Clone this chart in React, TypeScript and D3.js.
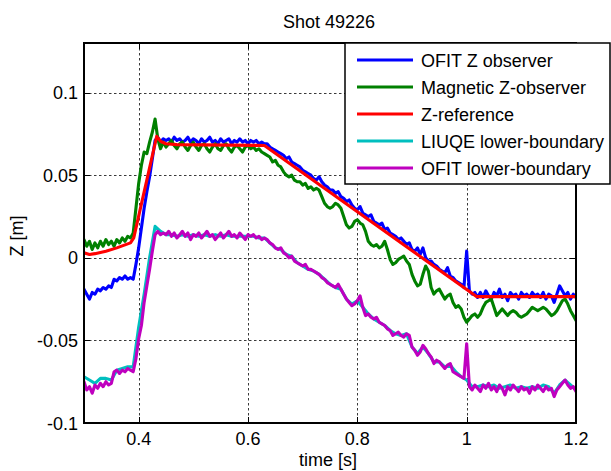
import React from "react";
import * as d3 from "d3";

// ---- Data (time in s, Z in m) ----
const TITLE = "Shot 49226";
const X_LABEL = "time [s]";
const Y_LABEL = "Z [m]";
const xTicks = [0.4, 0.6, 0.8, 1.0, 1.2];
const xTickLabels = ["0.4", "0.6", "0.8", "1", "1.2"];
const yTicks = [-0.1, -0.05, 0, 0.05, 0.1];
const yTickLabels = ["-0.1", "-0.05", "0", "0.05", "0.1"];
const seriesNames = [
  "OFIT Z observer",
  "Magnetic Z-observer",
  "Z-reference",
  "LIUQE lower-boundary",
  "OFIT lower-boundary",
];
const seriesColors = ["#0000ff", "#008000", "#ff0000", "#00bfbf", "#bf00bf"];

// sampling times (5 ms and 10 ms grids)
const timeFine = d3.range(181).map((i) => +(0.3 + i * 0.005).toFixed(3));
const timeCoarse = d3.range(91).map((i) => +(0.3 + i * 0.01).toFixed(2));

const ofitZ = [
  -0.019, -0.022, -0.025, -0.021, -0.022, -0.019, -0.020, -0.018, -0.019, -0.017, -0.018,
  -0.013, -0.014, -0.012, -0.013, -0.011, -0.013, -0.012, -0.013, -0.004, 0.006,
  0.018, 0.030, 0.040, 0.049, 0.060, 0.071, 0.073, 0.070, 0.072, 0.071,
  0.072, 0.070, 0.073, 0.071, 0.072, 0.070, 0.071, 0.073, 0.070, 0.072,
  0.071, 0.069, 0.072, 0.070, 0.071, 0.073, 0.070, 0.071, 0.069, 0.072,
  0.070, 0.071, 0.072, 0.069, 0.071, 0.070, 0.072, 0.070, 0.071, 0.069,
  0.071, 0.070, 0.071, 0.069, 0.070, 0.069, 0.069, 0.067, 0.066, 0.065,
  0.064, 0.063, 0.062, 0.060, 0.061, 0.058, 0.057, 0.056, 0.055, 0.053,
  0.052, 0.051, 0.050, 0.048, 0.047, 0.049, 0.046, 0.044, 0.043, 0.041,
  0.041, 0.039, 0.040, 0.037, 0.036, 0.034, 0.035, 0.032, 0.030, 0.029,
  0.031, 0.027, 0.026, 0.025, 0.026, 0.022, 0.021, 0.020, 0.021, 0.017,
  0.018, 0.015, 0.014, 0.013, 0.011, 0.012, 0.010, 0.008, 0.009, 0.005,
  0.004, 0.006, 0.002, 0.006, 0.000, -0.002, -0.002, -0.004, -0.005, -0.007,
  -0.008, -0.009, -0.006, -0.011, -0.012, -0.014, -0.015, -0.016, -0.018, 0.004,
  -0.020, -0.022, -0.021, -0.024, -0.021, -0.024, -0.020, -0.023, -0.025, -0.021,
  -0.023, -0.019, -0.024, -0.022, -0.026, -0.021, -0.023, -0.022, -0.025, -0.021,
  -0.023, -0.022, -0.024, -0.021, -0.023, -0.022, -0.024, -0.021, -0.025, -0.022,
  -0.023, -0.027, -0.022, -0.017, -0.020, -0.023, -0.021, -0.025, -0.022, -0.024,
];

const magneticZ = [
  0.011, 0.007, 0.010, 0.005, 0.009, 0.006, 0.010, 0.007, 0.011, 0.008, 0.010,
  0.007, 0.011, 0.009, 0.012, 0.010, 0.013, 0.012, 0.015, 0.030, 0.045,
  0.056, 0.064, 0.063, 0.070, 0.076, 0.084, 0.072, 0.066, 0.070, 0.067,
  0.069, 0.071, 0.068, 0.066, 0.069, 0.070, 0.067, 0.065, 0.068, 0.070,
  0.067, 0.065, 0.068, 0.069, 0.066, 0.064, 0.067, 0.069, 0.066, 0.065,
  0.068, 0.069, 0.066, 0.064, 0.067, 0.068, 0.066, 0.064, 0.067, 0.068,
  0.066, 0.067, 0.065, 0.066, 0.064, 0.063, 0.062, 0.061, 0.058, 0.059,
  0.056, 0.055, 0.052, 0.050, 0.049, 0.050, 0.047, 0.046, 0.046, 0.044,
  0.045, 0.042, 0.043, 0.041, 0.042, 0.041, 0.037, 0.033, 0.031, 0.030,
  0.031, 0.033, 0.032, 0.030, 0.025, 0.020, 0.018, 0.019, 0.022, 0.023,
  0.021, 0.020, 0.016, 0.010, 0.008, 0.007, 0.008, 0.006, 0.007, 0.010,
  0.005, -0.001, -0.004, -0.003, -0.001, 0.000, 0.001, -0.002, -0.004, -0.010,
  -0.014, -0.017, -0.016, -0.010, -0.005, -0.008, -0.018, -0.022, -0.020, -0.019,
  -0.022, -0.025, -0.023, -0.022, -0.027, -0.030, -0.029, -0.031, -0.036, -0.039,
  -0.037, -0.035, -0.034, -0.036, -0.034, -0.030, -0.027, -0.026, -0.025, -0.030,
  -0.035, -0.033, -0.031, -0.033, -0.035, -0.033, -0.032, -0.033, -0.035, -0.036,
  -0.035, -0.034, -0.032, -0.030, -0.031, -0.032, -0.031, -0.030, -0.031, -0.033,
  -0.035, -0.034, -0.032, -0.029, -0.026, -0.025, -0.028, -0.032, -0.035, -0.038,
];

const refTime = [0.30, 0.31, 0.32, 0.34, 0.36, 0.385, 0.391, 0.433, 0.44, 0.45, 0.47, 0.63, 1.018, 1.20];
const refZ = [0.003, 0.002, 0.0025, 0.004, 0.006, 0.009, 0.012, 0.0735, 0.0705, 0.069, 0.0685, 0.068, -0.0235, -0.0235];

const liuqeLower = [
  -0.072, -0.074, -0.076, -0.073, -0.073, -0.074, -0.068, -0.067, -0.066, -0.066, -0.042,
  -0.022, 0.000, 0.019, 0.016, 0.014, 0.014, 0.013, 0.014, 0.013, 0.014,
  0.013, 0.014, 0.013, 0.014, 0.013, 0.014, 0.013, 0.013, 0.013, 0.013,
  0.013, 0.012, 0.012, 0.009, 0.006, 0.005, 0.002, 0.001, -0.003, -0.005,
  -0.007, -0.008, -0.010, -0.013, -0.016, -0.018, -0.019, -0.025, -0.028, -0.026,
  -0.030, -0.034, -0.037, -0.039, -0.041, -0.044, -0.046, -0.047, -0.046, -0.054,
  -0.058, -0.054, -0.058, -0.063, -0.063, -0.066, -0.065, -0.069, -0.072, -0.074,
  -0.078, -0.078, -0.077, -0.078, -0.077, -0.079, -0.078, -0.077, -0.079, -0.078,
  -0.079, -0.078, -0.079, -0.077, -0.078, -0.082, -0.077, -0.074, -0.077, -0.080,
];

const ofitLower = [
  -0.075, -0.080, -0.078, -0.082, -0.077, -0.079, -0.076, -0.078, -0.075, -0.077, -0.076,
  -0.069, -0.068, -0.070, -0.068, -0.069, -0.067, -0.068, -0.069, -0.061, -0.049,
  -0.041, -0.027, -0.017, -0.007, 0.004, 0.014, 0.016, 0.014, 0.015, 0.014,
  0.016, 0.013, 0.015, 0.012, 0.014, 0.016, 0.013, 0.015, 0.011, 0.014,
  0.013, 0.015, 0.012, 0.014, 0.016, 0.013, 0.014, 0.011, 0.013, 0.015,
  0.012, 0.014, 0.016, 0.013, 0.014, 0.012, 0.015, 0.013, 0.011, 0.014,
  0.013, 0.014, 0.012, 0.013, 0.011, 0.012, 0.011, 0.009, 0.008, 0.006,
  0.005, 0.006, 0.003, 0.002, 0.000, 0.001, -0.002, -0.003, -0.004, -0.005,
  -0.004, -0.007, -0.007, -0.008, -0.009, -0.010, -0.012, -0.013, -0.015, -0.016,
  -0.017, -0.018, -0.016, -0.019, -0.022, -0.025, -0.027, -0.029, -0.028, -0.026,
  -0.023, -0.030, -0.035, -0.034, -0.036, -0.037, -0.036, -0.039, -0.040, -0.041,
  -0.043, -0.044, -0.047, -0.046, -0.045, -0.047, -0.048, -0.046, -0.047, -0.054,
  -0.056, -0.059, -0.057, -0.053, -0.055, -0.058, -0.060, -0.064, -0.062, -0.063,
  -0.065, -0.067, -0.065, -0.064, -0.069, -0.070, -0.071, -0.072, -0.073, -0.052,
  -0.078, -0.080, -0.077, -0.079, -0.081, -0.077, -0.079, -0.076, -0.080, -0.078,
  -0.081, -0.077, -0.079, -0.083, -0.078, -0.080, -0.077, -0.079, -0.081, -0.078,
  -0.080, -0.079, -0.082, -0.078, -0.080, -0.077, -0.079, -0.081, -0.078, -0.080,
  -0.079, -0.084, -0.080, -0.078, -0.076, -0.074, -0.077, -0.079, -0.078, -0.081,
];

// ---- Layout ----
const W = 611;
const H = 471;
const L = 84, R = 576, T = 43, B = 423;
const FONT = "'Liberation Sans', Arial, Helvetica, sans-serif";

export default function App() {
  const x = d3.scaleLinear().domain([0.3, 1.2]).range([L, R]);
  const y = d3.scaleLinear().domain([-0.1, 0.13]).range([B, T]);

  const line = d3
    .line<[number, number]>()
    .x((d) => x(d[0]))
    .y((d) => y(d[1]));

  const series: { t: number[]; z: number[] }[] = [
    { t: timeFine, z: ofitZ },
    { t: timeFine, z: magneticZ },
    { t: refTime, z: refZ },
    { t: timeCoarse, z: liuqeLower },
    { t: timeFine, z: ofitLower },
  ];

  const legX = 345, legY = 43, legW = 265, legH = 141;

  return (
    <svg
      width={W}
      height={H}
      style={{ position: "absolute", left: 0, top: 0, background: "#fff" }}
      fontFamily={FONT}
    >
      <defs>
        <clipPath id="plotClip">
          <rect x={L} y={T} width={R - L} height={B - T} />
        </clipPath>
      </defs>
      <rect x={0} y={0} width={W} height={H} fill="#fff" />

      {/* grid */}
      <g stroke="#222" strokeWidth={0.9} strokeDasharray="2.5,2.5">
        {xTicks.slice(0, -1).map((t) => (
          <line key={"gx" + t} x1={Math.round(x(t)) + 0.5} x2={Math.round(x(t)) + 0.5} y1={T} y2={B} />
        ))}
        {yTicks.slice(1).map((t) => (
          <line key={"gy" + t} x1={L} x2={R} y1={Math.round(y(t)) + 0.5} y2={Math.round(y(t)) + 0.5} />
        ))}
      </g>

      {/* data */}
      <g clipPath="url(#plotClip)" fill="none" strokeLinejoin="round" strokeLinecap="round">
        {series.map((s, k) => (
          <path
            key={k}
            d={line(s.t.map((t, i) => [t, s.z[i]] as [number, number])) || ""}
            stroke={seriesColors[k]}
            strokeWidth={3.1}
          />
        ))}
      </g>

      {/* ticks */}
      <g stroke="#000" strokeWidth={1}>
        {xTicks.map((t) => (
          <g key={"tx" + t}>
            <line x1={Math.round(x(t)) + 0.5} x2={Math.round(x(t)) + 0.5} y1={B} y2={B - 6} />
            <line x1={Math.round(x(t)) + 0.5} x2={Math.round(x(t)) + 0.5} y1={T} y2={T + 6} />
          </g>
        ))}
        {yTicks.map((t) => (
          <g key={"ty" + t}>
            <line x1={L} x2={L + 6} y1={Math.round(y(t)) + 0.5} y2={Math.round(y(t)) + 0.5} />
            <line x1={R} x2={R - 6} y1={Math.round(y(t)) + 0.5} y2={Math.round(y(t)) + 0.5} />
          </g>
        ))}
      </g>

      {/* axes box */}
      <rect x={L} y={T} width={R - L} height={B - T} fill="none" stroke="#000" strokeWidth={2} />

      {/* tick labels */}
      <g fontSize={18} fill="#000">
        {xTicks.map((t, i) => (
          <text key={"lx" + t} x={x(t)} y={445} textAnchor="middle">
            {xTickLabels[i]}
          </text>
        ))}
        {yTicks.map((t, i) => (
          <text key={"ly" + t} x={78} y={y(t) + 6.5} textAnchor="end">
            {yTickLabels[i]}
          </text>
        ))}
      </g>

      {/* labels */}
      <text x={329} y={28} fontSize={18} textAnchor="middle" fill="#000">
        {TITLE}
      </text>
      <text x={328} y={466} fontSize={18} textAnchor="middle" fill="#000">
        {X_LABEL}
      </text>
      <text
        transform={`translate(23,${(T + B) / 2 + 3}) rotate(-90)`}
        fontSize={18}
        textAnchor="middle"
        fill="#000"
      >
        {Y_LABEL}
      </text>

      {/* legend */}
      <rect x={legX} y={legY} width={legW} height={legH} fill="#fff" stroke="#000" strokeWidth={1.5} />
      {seriesNames.map((name, k) => {
        const cy = 60 + k * 27;
        return (
          <g key={"leg" + k}>
            <line x1={357} x2={413} y1={cy} y2={cy} stroke={seriesColors[k]} strokeWidth={2.8} />
            <text x={421} y={cy + 6.5} fontSize={18} fill="#000">
              {name}
            </text>
          </g>
        );
      })}
    </svg>
  );
}
